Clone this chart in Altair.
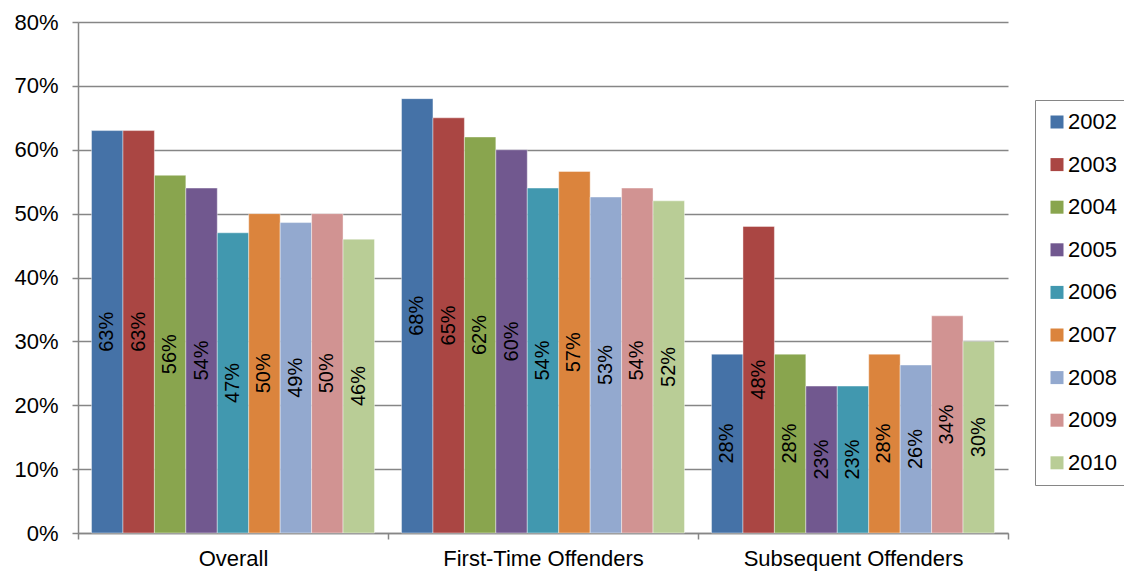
import altair as alt
import pandas as pd

groups = ["Overall", "First-Time Offenders", "Subsequent Offenders"]
years = ["2002", "2003", "2004", "2005", "2006", "2007", "2008", "2009", "2010"]
overall = [63, 63, 56, 54, 47, 50, 48.6, 50, 46]
first_time = [68, 65, 62, 60, 54, 56.6, 52.6, 54, 52]
subsequent = [28, 48, 28, 23, 23, 28, 26.3, 34, 30]
colors = ["#4572A7", "#AA4643", "#89A54E", "#71588F", "#4198AF",
          "#DB843D", "#93A9CF", "#D19392", "#B9CD96"]

rows = []
for g, vals in zip(groups, [overall, first_time, subsequent]):
    for y, v in zip(years, vals):
        rows.append({"group": g, "year": y, "value": v / 100,
                     "half": v / 200, "label": f"{round(v)}%"})
df = pd.DataFrame(rows)

FONT = "Liberation Sans"

x_enc = alt.X("group:N", sort=groups, title=None,
              scale=alt.Scale(paddingInner=0, paddingOuter=0),
              axis=alt.Axis(labelAngle=0, tickBand="extent", labelFontSize=22,
                            labelColor="black", labelFont=FONT, tickSize=6,
                            tickColor="#868686", domainColor="#868686",
                            domainWidth=1.5, tickWidth=1.5, labelPadding=9,
                            labelLimit=0))
xo_enc = alt.XOffset("year:N", sort=years,
                     scale=alt.Scale(paddingInner=0, paddingOuter=0.43))

bars = alt.Chart(df).mark_bar(stroke="white", strokeWidth=0.6, strokeOpacity=0.7).encode(
    x=x_enc,
    xOffset=xo_enc,
    y=alt.Y("value:Q", title=None,
            scale=alt.Scale(domain=[0, 0.8], nice=False),
            axis=alt.Axis(format="%", values=[0, 0.1, 0.2, 0.3, 0.4, 0.5, 0.6, 0.7, 0.8],
                          labelFontSize=22, labelColor="black", labelFont=FONT,
                          tickSize=6, tickColor="#868686", tickWidth=1.5,
                          domainColor="#868686", domainWidth=1.5,
                          gridColor="#868686", gridWidth=1.5, labelPadding=14)),
    color=alt.Color("year:N", sort=years,
                    scale=alt.Scale(domain=years, range=colors),
                    legend=alt.Legend(title=None, orient="none", legendX=957, legendY=78,
                                      labelFontSize=22, labelColor="black", labelFont=FONT,
                                      symbolType="square", symbolSize=169,
                                      symbolStrokeWidth=0, rowPadding=20.6,
                                      labelOffset=0, padding=11,
                                      strokeColor="#868686", fillColor="white")),
)

labels = alt.Chart(df).mark_text(angle=270, fontSize=20, font=FONT, color="black",
                                 align="center", baseline="middle").encode(
    x=alt.X("group:N", sort=groups),
    xOffset=alt.XOffset("year:N", sort=years),
    y=alt.Y("half:Q"),
    text="label:N",
)

chart = (bars + labels).properties(
    width=930, height=511,
    autosize=alt.AutoSizeParams(type="none"),
    padding={"left": 78, "top": 22, "right": 116, "bottom": 38},
).configure_view(stroke=None).configure_axisX(grid=False)

chart.save("out.html", embed_options={"renderer": "svg", "actions": False})
